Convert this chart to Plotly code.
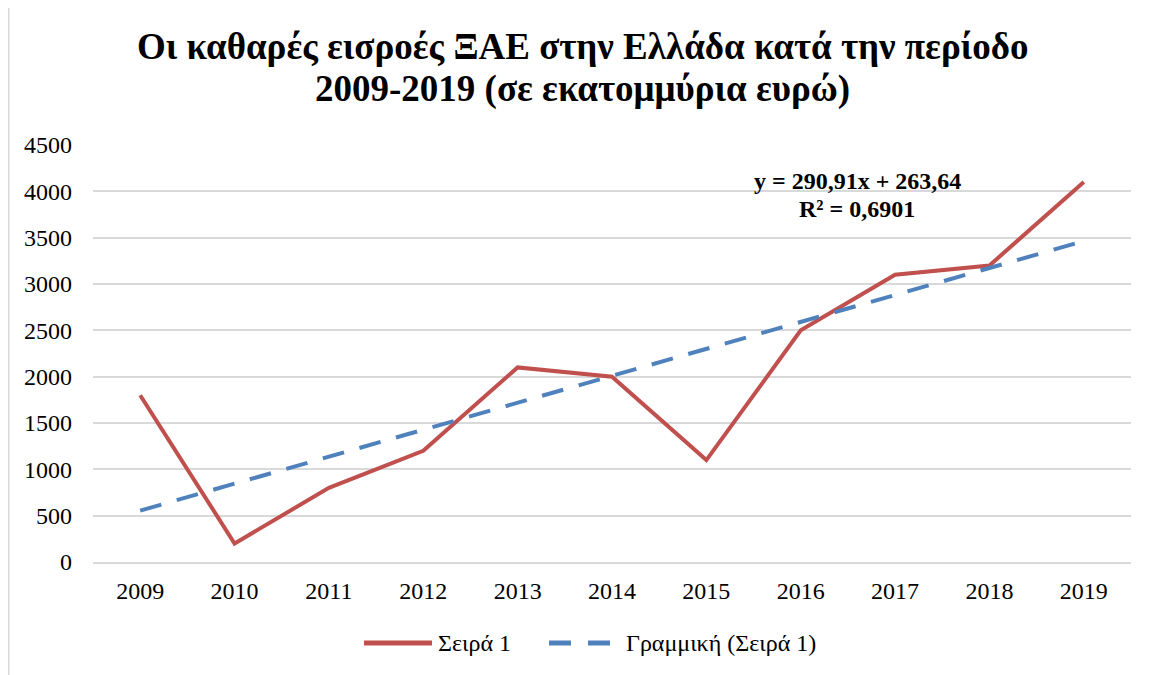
import numpy as np
import plotly.graph_objects as go

years = ["2009", "2010", "2011", "2012", "2013", "2014", "2015", "2016", "2017", "2018", "2019"]
values = [1800, 200, 800, 1200, 2100, 2000, 1100, 2500, 3100, 3200, 4100]
y_ticks = [0, 500, 1000, 1500, 2000, 2500, 3000, 3500, 4000, 4500]
title_lines = ["Οι καθαρές εισροές ΞΑΕ στην Ελλάδα κατά την περίοδο",
               "2009-2019 (σε εκατομμύρια ευρώ)"]
series_names = ["Σειρά 1", "Γραμμική (Σειρά 1)"]

xi = np.arange(1, len(values) + 1)
slope, intercept = np.polyfit(xi, values, 1)
trend = slope * xi + intercept
pred = np.array(values, dtype=float)
r2 = 1 - np.sum((pred - trend) ** 2) / np.sum((pred - pred.mean()) ** 2)

def gr(v, d):
    return f"{v:.{d}f}".replace(".", ",")

serif = "Liberation Serif, Times New Roman, serif"
RED, BLUE = "#C0504D", "#4F81BD"

W, H = 1145, 667
L, R, T, B = 85, 22, 137, 113
PH = H - T - B
PW = W - L - R

def py(pix):  # figure pixel y -> paper y
    return (H - B - pix) / PH

def px(pix):
    return (pix - L) / PW

fig = go.Figure()
fig.add_trace(go.Scatter(x=years, y=values, mode="lines", name=series_names[0],
                         line=dict(color=RED, width=4), showlegend=False))
fig.add_trace(go.Scatter(x=years, y=trend, mode="lines", name=series_names[1],
                         line=dict(color=BLUE, width=4, dash="22px,16px"), showlegend=False))

fig.update_layout(
    width=W, height=H,
    margin=dict(l=L, r=R, t=T, b=B),
    paper_bgcolor="white", plot_bgcolor="white",
    font=dict(family=serif, size=24, color="#000000"),
    xaxis=dict(type="category", range=[-0.5, 10.5], showgrid=False, showline=True,
               linecolor="#D9D9D9", linewidth=2, ticks="", tickfont=dict(size=24),
               ticklabelstandoff=6),
    yaxis=dict(range=[0, 4500], tickvals=y_ticks, showgrid=True, gridcolor="#D9D9D9",
               gridwidth=2, zeroline=False, showline=False, ticks="", tickfont=dict(size=24),
               ticklabelstandoff=20),
    showlegend=False,
)

# title (two lines, tight spacing)
for txt, yy in zip(title_lines, [39, 81]):
    fig.add_annotation(xref="paper", yref="paper", x=px(574), y=py(yy), xanchor="center",
                       yanchor="middle", text=f"<b>{txt}</b>", showarrow=False,
                       font=dict(family=serif, size=37, color="#000000"))

# trendline equation
for txt, yy in zip([f"y = {gr(slope,2)}x + {gr(intercept,2)}", f"R² = {gr(r2,4)}"], [173, 201]):
    fig.add_annotation(xref="paper", yref="paper", x=px(849), y=py(yy), xanchor="center",
                       yanchor="middle", text=f"<b>{txt}</b>", showarrow=False,
                       font=dict(family=serif, size=24, color="#000000"))

# legend
LY = 635
fig.add_shape(type="line", xref="paper", yref="paper", x0=px(356), x1=px(424), y0=py(LY), y1=py(LY),
              line=dict(color=RED, width=5))
fig.add_annotation(xref="paper", yref="paper", x=px(428), y=py(LY), xanchor="left", yanchor="middle",
                   text=series_names[0], showarrow=False, font=dict(family=serif, size=24))
fig.add_shape(type="line", xref="paper", yref="paper", x0=px(541), x1=px(602), y0=py(LY), y1=py(LY),
              line=dict(color=BLUE, width=5, dash="22px,17px"))
fig.add_annotation(xref="paper", yref="paper", x=px(616), y=py(LY), xanchor="left", yanchor="middle",
                   text=series_names[1], showarrow=False, font=dict(family=serif, size=24))

# chart-area border
fig.add_shape(type="rect", xref="paper", yref="paper",
              x0=px(0.5), x1=px(W + 200),
              y0=py(H + 200), y1=py(-1),
              line=dict(color="#D9D9D9", width=2), layer="below")

fig.write_html("out.html")
